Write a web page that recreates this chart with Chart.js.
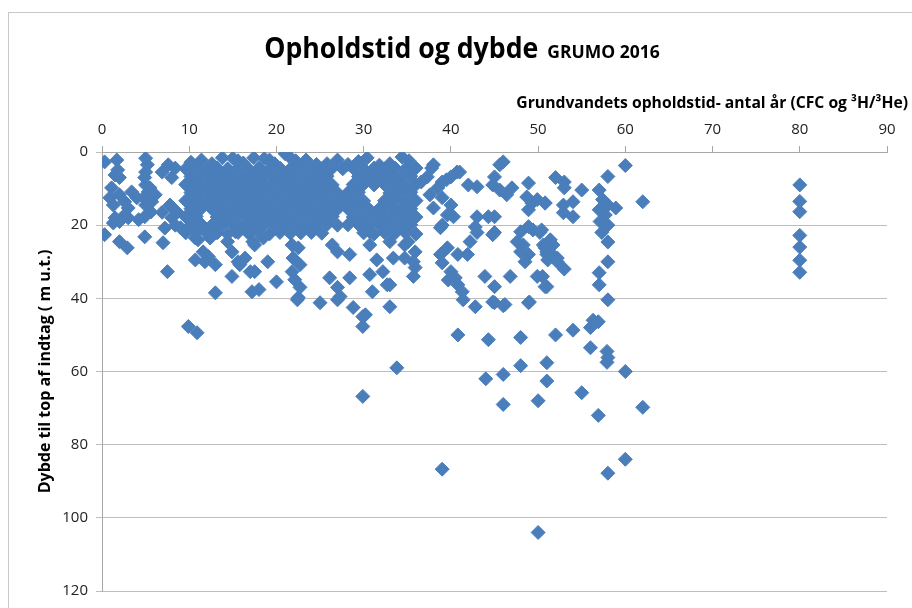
<!DOCTYPE html>
<html lang="da">
<head>
<meta charset="utf-8">
<title>Opholdstid og dybde</title>
<script src="https://cdn.jsdelivr.net/npm/chart.js@4.4.1/dist/chart.umd.min.js"></script>
<style>
  html, body { margin: 0; padding: 0; background: #fff; overflow: hidden; }
  #ramme { position: absolute; left: 8px; top: 12px; width: 1000px; height: 700px;
           border-left: 1px solid #c8c8c8; border-top: 1px solid #c8c8c8; }
  #graf { position: absolute; left: 0; top: 0; }
</style>
</head>
<body>
<div id="ramme"></div>
<canvas id="graf" width="912" height="608"></canvas>
<script>
const titel = "Opholdstid og dybde";
const undertitel = "GRUMO 2016";
const xTitel = "Grundvandets opholdstid- antal år (CFC og ³H/³He)";
const yTitel = "Dybde til top af indtag ( m u.t.)";

const aarAkse = [0, 10, 20, 30, 40, 50, 60, 70, 80, 90];
const dybdeAkse = [0, 20, 40, 60, 80, 100, 120];

// [alder i år, dybde i m] - de yngste indtag
const unge = [
  [0.3,2.7],[1.7,2.2],[1.8,4.9],[1.5,6.3],[2.0,7.0],[1.1,9.8],[0.9,12.5],[1.3,14.5],[2.0,11.7],
  [2.6,13.6],[3.0,15.3],[3.4,10.9],[4.0,12.5],[1.5,18.0],[2.0,19.0],[1.3,19.4],[2.6,17.2],[3.0,18.0],
  [5.0,1.7],[5.2,3.5],[5.0,5.5],[4.9,7.0],[5.0,9.0],[5.3,10.9],[4.8,12.5],[5.0,14.5],[5.6,16.4],
  [4.9,17.7],[4.2,18.5],[5.7,13.6],[6.1,11.7],[5.5,9.8],[6.9,5.5],[7.6,3.5],[8.4,4.4],[8.0,7.0],
  [7.8,14.5],[8.6,16.4],[8.0,18.0],[8.4,20.0],[9.0,20.7],[7.2,20.8],[6.9,16.5],
  [0.3,22.6],[2.0,24.5],[2.9,26.2],[4.9,23.2],[7.0,24.8],[7.5,32.7]
];

// den tætte klynge mellem ca. 9 og 37 år, de øverste 22 m
const taette = [
  [10.2,2.8],[11.4,2.2],[12.6,3.2],[13.8,1.6],[15.0,1.7],[16.2,3.0],[17.4,1.6],[18.6,1.8],[19.8,3.2],
  [21.0,0.5],[22.2,2.4],[23.4,2.2],[24.6,3.4],[25.8,3.2],[27.0,2.2],[28.2,3.4],[29.4,2.6],[30.4,1.6],
  [31.8,3.6],[33.0,3.2],[34.4,1.4],[35.2,2.4],[21.6,1.6],[15.6,2.4],[19.2,2.2],[23.0,3.4],
  [9.6,4.6],[10.8,4.4],[12.0,4.6],[13.2,4.4],[14.4,4.6],[15.6,4.4],[16.8,4.6],[18.0,4.4],[19.2,4.6],
  [20.4,4.4],[21.6,4.6],[22.8,4.4],[24.0,4.6],[25.2,4.6],[26.4,4.4],[27.6,4.6],[28.8,4.4],[30.0,4.6],
  [31.2,4.4],[32.4,4.6],[33.6,4.4],[34.8,4.6],[36.0,4.4],[37.8,4.4],[38.0,3.5],
  [10.2,6.7],[11.4,6.6],[12.6,6.8],[13.8,6.7],[15.0,6.6],[16.2,6.8],[17.4,6.7],[18.6,6.6],[19.8,6.8],
  [21.0,6.7],[22.2,6.6],[23.4,6.8],[24.6,6.7],[25.8,6.6],[29.4,6.7],[30.6,6.8],[31.8,6.6],[33.0,6.7],
  [34.2,6.8],[35.4,6.6],[37.3,6.8],
  [9.6,8.9],[10.8,8.8],[12.0,9.0],[13.2,8.9],[14.4,8.8],[15.6,9.0],[16.8,8.9],[18.0,8.8],[19.2,9.0],
  [20.4,8.9],[21.6,8.8],[22.8,9.0],[24.0,8.9],[25.2,8.8],[26.4,9.0],[28.8,8.9],[30.0,8.8],[31.2,9.0],
  [32.4,8.9],[33.6,8.8],[34.8,9.0],[36.0,8.9],[36.6,8.2],[38.5,9.8],
  [10.2,11.1],[11.4,11.0],[12.6,11.2],[13.8,11.1],[15.0,11.0],[16.2,11.2],[17.4,11.1],[18.6,11.0],[19.8,11.2],
  [21.0,11.1],[22.2,11.0],[23.4,11.2],[24.6,11.1],[25.8,11.0],[27.0,11.2],[28.2,11.1],[29.4,11.0],[33.0,11.2],
  [34.2,11.1],[35.4,11.0],[37.6,11.7],
  [9.6,13.3],[10.8,13.2],[12.0,13.4],[13.2,13.3],[14.4,13.2],[15.6,13.4],[16.8,13.3],[18.0,13.2],[19.2,13.4],
  [20.4,13.3],[21.6,13.2],[22.8,13.4],[24.0,13.3],[25.2,13.2],[26.4,13.4],[27.6,13.3],[28.8,13.2],[30.0,13.4],
  [32.4,13.3],[33.6,13.2],[34.8,13.4],[36.0,13.3],[39.0,12.5],
  [10.2,15.5],[11.4,15.4],[12.6,15.6],[13.8,15.5],[15.0,15.4],[16.2,15.6],[17.4,15.5],[18.6,15.4],[19.8,15.6],
  [21.0,15.5],[22.2,15.4],[23.4,15.6],[24.6,15.5],[25.8,15.4],[27.0,15.6],[28.2,15.5],[29.4,15.4],[30.6,15.6],
  [31.8,15.5],[33.0,15.4],[34.2,15.6],[35.4,15.5],[38.0,15.3],[40.0,14.5],
  [9.6,17.7],[10.8,17.6],[13.2,17.8],[14.4,17.7],[15.6,17.6],[16.8,17.8],[18.0,17.7],[19.2,17.6],[20.4,17.8],
  [21.6,17.7],[22.8,17.6],[24.0,17.8],[25.2,17.7],[26.4,17.6],[28.8,17.8],[30.0,17.7],[31.2,17.6],[32.4,17.8],
  [33.6,17.7],[34.8,17.6],[36.0,17.8],[39.6,17.2],[40.3,17.7],
  [10.2,19.9],[11.4,19.8],[12.6,20.0],[13.8,19.9],[15.0,19.8],[16.2,20.0],[17.4,19.9],[18.6,19.8],[19.8,20.0],
  [21.0,19.9],[22.2,19.8],[23.4,20.0],[24.6,19.9],[25.8,19.8],[27.0,20.0],[28.2,19.9],[29.4,19.8],[30.6,20.0],
  [31.8,19.9],[33.0,19.8],[34.2,20.0],[35.4,19.9],[39.0,20.0],[38.8,20.7],
  [9.6,22.1],[10.8,22.0],[12.0,22.2],[13.2,22.1],[14.4,22.4],[15.6,22.0],[16.8,22.2],[18.0,22.1],[19.2,22.4],
  [20.4,22.0],[21.6,22.2],[22.8,22.1],[24.0,22.0],[25.2,22.2],[30.0,22.1],[31.2,22.4],[32.4,22.0],[33.6,22.2],
  [34.8,22.1],[36.0,22.4]
];

// spredte indtag under klyngen, op til 40 år
const spredte = [
  [10.7,23.5],[11.0,24.0],[12.4,23.5],[14.4,24.5],[15.3,21.8],[17.5,25.4],[17.3,24.5],[18.5,23.5],
  [11.6,27.3],[12.2,28.6],[13.0,30.8],[10.7,29.5],[11.8,30.0],[13.0,38.5],[14.9,27.3],[15.8,30.8],
  [14.9,34.0],[15.6,30.0],[16.4,29.0],[17.0,32.7],[17.2,38.2],[17.5,32.7],
  [19.0,30.0],[18.0,37.6],[20.0,35.5],[21.8,25.4],[22.5,26.2],[21.9,29.0],[22.7,30.8],[21.8,32.7],
  [22.1,34.9],[22.7,37.0],[22.5,39.8],[22.4,40.4],[25.0,41.2],[27.0,40.4],
  [26.1,34.4],[27.0,37.0],[27.3,39.5],[28.4,34.4],[26.4,25.4],[27.0,27.3],[28.4,28.0],[30.7,25.4],
  [31.5,29.5],[30.7,33.5],[31.0,38.2],[32.2,32.7],[32.7,36.3],[28.8,42.5],[30.2,44.5],[29.9,47.7],
  [29.9,45.0],[33.0,42.3],[30.7,21.8],[33.0,24.5],[33.4,29.0],[33.0,36.3],[34.7,25.4],[34.7,29.0],
  [35.1,24.5],[35.9,27.3],[35.7,30.0],[35.9,31.6],[35.7,34.0],[29.9,66.8],[33.8,59.0],[9.9,47.7],[10.9,49.4]
];

// ældre vand, ca. 39 til 62 år
const aeldre = [
  [40.7,5.5],[39.5,7.6],[41.0,5.5],[40.0,6.8],[39.0,8.2],
  [42.0,9.0],[43.0,9.5],[43.0,17.7],[42.8,20.5],[43.0,22.0],[45.0,6.8],[45.6,3.5],[46.0,2.7],[44.8,9.0],
  [45.6,10.4],[46.4,11.7],[47.0,9.8],[45.0,17.7],[44.8,22.6],[44.3,17.7],[45.0,22.0],
  [48.9,8.5],[52.0,7.0],[48.7,12.3],[49.3,14.0],[49.9,13.0],[50.8,14.0],[48.9,15.8],[48.0,21.8],[48.9,20.4],
  [49.4,21.3],[50.2,22.0],[47.6,24.5],[48.3,25.4],[48.0,27.3],[48.9,28.0],[48.5,30.0],[50.6,25.4],[51.0,27.3],
  [51.7,25.4],[51.1,29.5],[52.2,30.0],[49.9,34.0],[50.8,36.8],[49.0,41.0],[46.8,34.0],[43.9,34.0],[45.0,36.8],
  [44.8,41.0],[46.2,41.7],[42.8,42.3],
  [42.2,24.5],[41.9,28.0],[40.8,28.0],[39.6,26.2],[38.8,28.0],[39.0,30.3],[40.0,32.7],[40.5,34.4],[39.7,35.0],
  [40.8,36.3],[41.3,38.2],[41.4,40.4],[45.0,41.2],[46.0,42.0],[48.9,41.2],
  [40.8,50.0],[44.3,51.3],[48.0,50.7],[52.0,50.0],[54.0,48.7],[56.0,48.0],[56.9,46.4],[56.3,46.0],[56.0,53.5],
  [57.9,54.5],[58.0,56.2],[57.9,57.5],[60.0,60.0],
  [44.0,62.0],[46.0,60.8],[48.0,58.4],[51.0,57.6],[51.0,62.6],[46.0,69.0],[50.0,68.0],[55.0,65.8],[56.9,72.0],
  [62.0,69.8],[39.0,86.7],[60.0,84.0],[58.0,87.8],[50.0,104.0],
  [60.0,3.7],[58.0,6.7],[62.0,13.6],[57.0,10.4],[57.4,13.0],[58.0,14.5],[58.9,15.3],[57.0,15.8],[57.7,17.2],
  [57.1,19.0],[58.0,20.0],[57.3,22.0],[58.0,24.6],[58.0,30.0],[57.0,33.0],[57.0,36.3],[58.0,40.4],
  [53.0,8.2],[53.0,9.8],[55.0,10.4],[50.8,13.9],[52.9,14.5],[54.0,13.6],[52.9,16.6],[54.0,17.7],[50.4,21.3],
  [51.4,24.0],[50.8,26.2],[51.4,27.5],[52.2,29.0],[51.0,28.0],[53.0,32.0],[50.5,34.0],[51.0,36.8]
];

// indtag med 80 år
const aeldst = [[80,9.0],[80,13.5],[80,16.3],[80,22.8],[80,26.0],[80,29.6],[80,32.9]];

const alleMaalinger = [...unge, ...taette, ...spredte, ...aeldre, ...aeldst];

const skrift = "'Open Sans', sans-serif";
const blaa = "#4A7EBB";

// titel og aksetitler tegnes selv, da titlen blander skriftstørrelser
const titelPlugin = {
  id: "titler",
  afterDraw(chart) {
    const ctx = chart.ctx;
    const omr = chart.chartArea;
    ctx.save();
    ctx.fillStyle = "#000";
    ctx.textBaseline = "alphabetic";
    const klem = 0.92;
    const stor = "bold 29px " + skrift;
    const lille = "bold 17.5px " + skrift;
    ctx.font = stor;
    const b1 = ctx.measureText(titel).width * klem;
    ctx.font = lille;
    const b2 = ctx.measureText(undertitel).width;
    const mellemrum = 9;
    const x0 = 462 - (b1 + mellemrum + b2) / 2;
    ctx.save();
    ctx.translate(x0, 58);
    ctx.scale(klem, 1);
    ctx.font = stor;
    ctx.fillText(titel, 0, 0);
    ctx.restore();
    ctx.font = lille;
    ctx.fillText(undertitel, x0 + b1 + mellemrum, 58);

    // x-aksens titel står højrestillet over akseteksterne
    ctx.font = "bold 15.7px " + skrift;
    ctx.textAlign = "right";
    ctx.fillText(xTitel, 908, 108);

    // y-aksens titel, drejet
    ctx.save();
    ctx.translate(45, (omr.top + omr.bottom) / 2);
    ctx.rotate(-Math.PI / 2);
    ctx.textAlign = "center";
    ctx.textBaseline = "middle";
    ctx.font = "bold 16px " + skrift;
    ctx.fillText(yTitel, 0, 0);
    ctx.restore();
    ctx.restore();
  }
};

new Chart(document.getElementById("graf"), {
  type: "scatter",
  data: {
    datasets: [{
      data: alleMaalinger.map(([x, y]) => ({ x, y })),
      pointStyle: "rectRot",
      pointRadius: 7,
      pointHoverRadius: 7,
      backgroundColor: blaa,
      borderColor: blaa,
      borderWidth: 1
    }]
  },
  options: {
    responsive: false,
    animation: false,
    layout: { padding: { left: 0, right: 25, top: 0, bottom: 16 } },
    plugins: {
      legend: { display: false },
      tooltip: { enabled: false }
    },
    scales: {
      x: {
        type: "linear",
        position: "top",
        min: aarAkse[0],
        max: aarAkse[aarAkse.length - 1],
        afterBuildTicks: s => { s.ticks = aarAkse.map(v => ({ value: v })); },
        afterFit: s => { s.height = 152; },
        ticks: { color: "#222", font: { family: skrift, size: 15 }, padding: 7 },
        grid: { drawOnChartArea: false, drawTicks: true, tickLength: 6, color: "#a6a6a6" },
        border: { display: true, color: "#a6a6a6" }
      },
      y: {
        type: "linear",
        reverse: true,
        min: dybdeAkse[0],
        max: dybdeAkse[dybdeAkse.length - 1],
        afterBuildTicks: s => { s.ticks = dybdeAkse.map(v => ({ value: v })); },
        afterFit: s => { s.width = 102; },
        ticks: { color: "#222", font: { family: skrift, size: 15 }, padding: 8 },
        grid: { color: "#bdbdbd", drawTicks: true, tickLength: 6 },
        border: { display: true, color: "#a6a6a6" }
      }
    }
  },
  plugins: [titelPlugin]
});
</script>
</body>
</html>
